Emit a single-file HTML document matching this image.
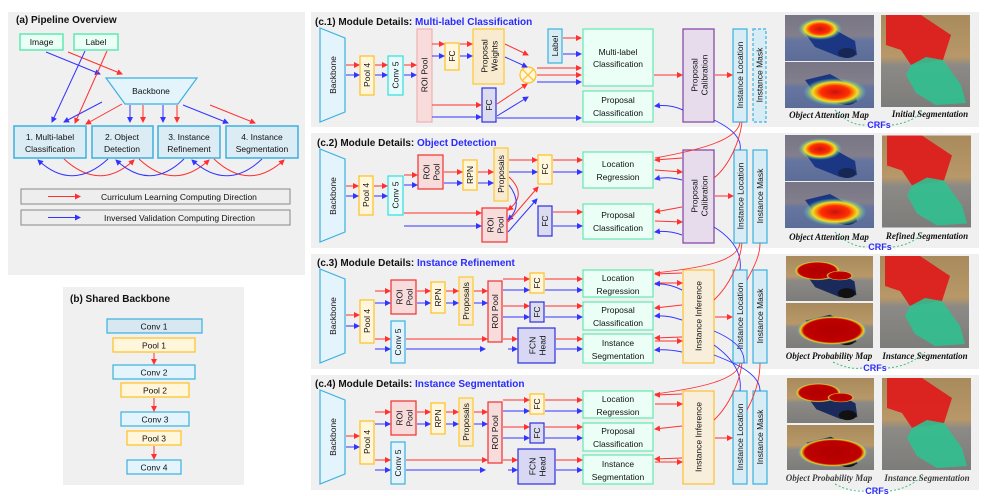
<!DOCTYPE html>
<html><head><meta charset="utf-8"><style>
html,body{margin:0;padding:0;background:#fff}
svg{display:block}
text{font-family:"Liberation Sans",sans-serif;fill:#111}
.t{font-weight:bold;font-size:10px}
.s{font-size:8.5px}
.v{font-size:8.5px}
.r{stroke:#ff3030;fill:none;stroke-width:1;marker-end:url(#ar)}
.b{stroke:#3434ff;fill:none;stroke-width:1;marker-end:url(#ab)}
.rn{stroke:#ff3030;fill:none;stroke-width:.9}
.bn{stroke:#3434ff;fill:none;stroke-width:.9}
.cap{font-family:"Liberation Serif",serif;font-style:italic;font-weight:bold;font-size:9px}
.crf{font-weight:bold;font-size:9px;fill:#2a2aff}
.bb{fill:#e3f4fc;stroke:#3ab0e0;stroke-width:1.2}
.py{fill:#fff6dc;stroke:#ffc020;stroke-width:1.2}
.cy{fill:#e6fbfb;stroke:#30e0e0;stroke-width:1.2}
.rp{fill:#f8dcdc;stroke:#f0b0b0;stroke-width:1.2}
.rr{fill:#f8dcdc;stroke:#f03030;stroke-width:1.2}
.pw{fill:#f8ebd0;stroke:#ffc830;stroke-width:1.2}
.fb{fill:#dcdcf0;stroke:#3030e0;stroke-width:1.2}
.gr{fill:#ebfff7;stroke:#60e8b0;stroke-width:1.2}
.pu{fill:#e6dcec;stroke:#8040a0;stroke-width:1.2}
.il{fill:#d8ecf5;stroke:#3ab0e0;stroke-width:1.2}
.ii{fill:#f8eedc;stroke:#ffc030;stroke-width:1.2}
</style></head><body>
<svg width="1007" height="496" viewBox="0 0 1007 496" xmlns="http://www.w3.org/2000/svg">
<defs>
<marker id="ar" markerWidth="6" markerHeight="6" refX="5" refY="3" orient="auto" markerUnits="userSpaceOnUse"><path d="M0,0 L6,3 L0,6 z" fill="#ff3030"/></marker>
<marker id="ab" markerWidth="6" markerHeight="6" refX="5" refY="3" orient="auto" markerUnits="userSpaceOnUse"><path d="M0,0 L6,3 L0,6 z" fill="#3434ff"/></marker>
<linearGradient id="scn" x1="0" y1="0" x2="0" y2="1"><stop offset="0" stop-color="#a88a5c"/><stop offset=".45" stop-color="#b89868"/><stop offset=".55" stop-color="#8c8a86"/><stop offset="1" stop-color="#7c7c7a"/></linearGradient>
<radialGradient id="hot"><stop offset="0" stop-color="#d01010"/><stop offset=".45" stop-color="#ff3000"/><stop offset=".7" stop-color="#f0e020"/><stop offset="1" stop-color="#30c0e0" stop-opacity="0"/></radialGradient>
<radialGradient id="prob"><stop offset="0" stop-color="#b00000"/><stop offset=".8" stop-color="#c00000"/><stop offset=".9" stop-color="#f0d020"/><stop offset="1" stop-color="#30a0f0" stop-opacity="0"/></radialGradient>
<symbol id="scene" viewBox="0 0 89 46"><rect width="89" height="46" fill="url(#scn)"/><path d="M20,18 L45,12 L70,26 L72,40 L55,42 L30,32z" fill="#1a2a5a"/><ellipse cx="62" cy="38" rx="9" ry="5" fill="#111"/></symbol>
<symbol id="att1" viewBox="0 0 89 46"><use href="#scene" width="89" height="46"/><rect width="89" height="46" fill="#2050d0" opacity=".35"/><ellipse cx="35" cy="14" rx="22" ry="11" fill="url(#hot)"/></symbol>
<symbol id="att2" viewBox="0 0 89 46"><use href="#scene" width="89" height="46"/><rect width="89" height="46" fill="#2050d0" opacity=".35"/><ellipse cx="50" cy="30" rx="32" ry="14" fill="url(#hot)"/></symbol>
<symbol id="pr1" viewBox="0 0 89 46"><use href="#scene" width="89" height="46"/><ellipse cx="32" cy="15" rx="24" ry="10" fill="url(#prob)"/><ellipse cx="55" cy="20" rx="14" ry="5" fill="url(#prob)"/></symbol>
<symbol id="pr2" viewBox="0 0 89 46"><use href="#scene" width="89" height="46"/><ellipse cx="47" cy="28" rx="36" ry="15" fill="url(#prob)"/></symbol>
<symbol id="seg" viewBox="0 0 89 92"><rect width="89" height="92" fill="url(#scn)"/><path d="M5,0 L40,0 L70,20 L62,45 L45,48 L30,50 L20,35 L5,30z" fill="#e01818" opacity=".9"/><path d="M30,50 L45,42 L62,45 L80,70 L85,88 L55,90 L35,78 L25,60z" fill="#30c090" opacity=".9"/></symbol>
</defs>

<!-- Panel (a) -->
<rect x="8" y="12" width="297" height="263" fill="#f0f0f0"/>
<text x="16" y="23" class="t">(a) Pipeline Overview</text>
<rect x="20" y="34" width="43" height="16" fill="#eafff5" stroke="#60e8b0" stroke-width="1.5"/><text x="41.5" y="45" class="s" text-anchor="middle">Image</text>
<rect x="74" y="34" width="44" height="16" fill="#eafff5" stroke="#60e8b0" stroke-width="1.5"/><text x="96" y="45" class="s" text-anchor="middle">Label</text>
<polygon points="106,78 197,78 178,104 125,104" fill="#e3f4fc" stroke="#3ab0e0" stroke-width="1.2"/>
<text x="151" y="94" class="s" text-anchor="middle">Backbone</text>
<g class="s" text-anchor="middle">
<rect x="14" y="126" width="72" height="32" fill="#dcecf5" stroke="#3ab0e0" stroke-width="1.5"/><text x="50" y="140">1. Multi-label</text><text x="50" y="152">Classification</text>
<rect x="92" y="126" width="61" height="32" fill="#dcecf5" stroke="#3ab0e0" stroke-width="1.5"/><text x="122" y="140">2. Object</text><text x="122" y="152">Detection</text>
<rect x="158" y="126" width="62" height="32" fill="#dcecf5" stroke="#3ab0e0" stroke-width="1.5"/><text x="189" y="140">3. Instance</text><text x="189" y="152">Refinement</text>
<rect x="226" y="126" width="72" height="32" fill="#dcecf5" stroke="#3ab0e0" stroke-width="1.5"/><text x="262" y="140">4. Instance</text><text x="262" y="152">Segmentation</text>
</g>
<path class="b" d="M46,52 L100,74"/><path class="r" d="M68,52 L122,74"/>
<path class="b" d="M85,51 L52,122"/><path class="r" d="M107,51 L75,123"/>
<path class="b" d="M102,102 L64,122"/><path class="r" d="M122,104 L86,124"/>
<path class="b" d="M130,105 L130,122"/><path class="r" d="M143,105 L143,122"/>
<path class="b" d="M163,105 L163,122"/><path class="r" d="M177,105 L177,122"/>
<path class="b" d="M183,105 L228,123"/><path class="r" d="M210,105 L255,123"/>
<path class="r" d="M64,159 Q100,192 134,160"/><path class="b" d="M108,159 Q72,192 38,160"/>
<path class="r" d="M139,159 Q174,192 209,160"/><path class="b" d="M184,159 Q150,192 116,160"/>
<path class="r" d="M214,159 Q249,192 284,160"/><path class="b" d="M262,159 Q227,192 192,160"/>
<rect x="21" y="189" width="269" height="15" fill="#eee" stroke="#888" stroke-width="1"/>
<path class="r" d="M48,196.5 L80,196.5"/><text x="101" y="200" class="s">Curriculum Learning Computing Direction</text>
<rect x="21" y="210" width="269" height="15" fill="#eee" stroke="#888" stroke-width="1"/>
<path class="b" d="M48,217.5 L80,217.5"/><text x="104" y="221" class="s">Inversed Validation Computing Direction</text>

<!-- Panel (b) -->
<rect x="63" y="287" width="181" height="198" fill="#f0f0f0"/>
<text x="70" y="302" class="t">(b) Shared Backbone</text>
<g class="s" text-anchor="middle">
<rect x="107" y="319" width="95" height="14" fill="#d8e8f0" stroke="#3ab0e0" stroke-width="1.2"/><text x="154" y="329.5">Conv  1</text>
<rect x="113" y="338" width="82" height="14" class="py"/><text x="154" y="348.5">Pool 1</text>
<rect x="113" y="365" width="82" height="14" class="bb"/><text x="154" y="375.5">Conv 2</text>
<rect x="121" y="383" width="68" height="14" class="py"/><text x="155" y="393.5">Pool 2</text>
<rect x="121" y="412" width="68" height="14" class="bb"/><text x="155" y="422.5">Conv 3</text>
<rect x="127" y="431" width="54" height="14" class="py"/><text x="154" y="441.5">Pool 3</text>
<rect x="127" y="460" width="54" height="14" class="bb"/><text x="154" y="470.5">Conv 4</text>
</g>
<path class="r" d="M154,353 L154,364"/><path class="r" d="M154,398 L154,411"/><path class="r" d="M154,446 L154,459"/>

<!-- section backgrounds -->
<rect x="311" y="12" width="668" height="115" fill="#f0f0f0"/>
<rect x="311" y="133" width="668" height="115" fill="#f0f0f0"/>
<rect x="311" y="254" width="668" height="115" fill="#f0f0f0"/>
<rect x="311" y="375" width="668" height="115" fill="#f0f0f0"/>

<!-- c.1 -->
<text x="315" y="25" class="t">(c.1) Module Details: <tspan fill="#2a2aff">Multi-label Classification</tspan></text>
<polygon points="320,28 345,38 345,112 320,122" class="bb"/>
<text class="v" text-anchor="middle" transform="translate(333,75) rotate(-90)" dy="3">Backbone</text>
<rect x="360" y="56" width="14" height="39" class="py"/><text class="v" text-anchor="middle" transform="translate(367,75) rotate(-90)" dy="3">Pool 4</text>
<rect x="388" y="56" width="15" height="39" class="cy"/><text class="v" text-anchor="middle" transform="translate(395.5,75) rotate(-90)" dy="3">Conv 5</text>
<rect x="417" y="29" width="15" height="93" class="rp"/><text class="v" text-anchor="middle" transform="translate(424.5,75) rotate(-90)" dy="3">ROI Pool</text>
<rect x="445" y="43" width="14" height="27" class="py"/><text class="v" text-anchor="middle" transform="translate(452,56) rotate(-90)" dy="3">FC</text>
<rect x="473" y="29" width="31" height="55" class="pw"/><text class="v" text-anchor="middle" transform="translate(488.5,56) rotate(-90)"><tspan x="0" dy="-1">Proposal</tspan><tspan x="0" dy="10">Weights</tspan></text>
<rect x="482" y="88" width="14" height="34" class="fb"/><text class="v" text-anchor="middle" transform="translate(489,105) rotate(-90)" dy="3">FC</text>
<rect x="548" y="29" width="14" height="34" class="il"/><text class="v" text-anchor="middle" transform="translate(555,46) rotate(-90)" dy="3">Label</text>
<circle cx="528" cy="75" r="8" fill="#fff6dc" stroke="#ffc020" stroke-width="1.2"/><path d="M522.5,69.5 L533.5,80.5 M533.5,69.5 L522.5,80.5" stroke="#ffc020" stroke-width="1.2"/>
<rect x="583" y="29" width="70" height="57" class="gr"/><text class="s" text-anchor="middle" x="618" y="55">Multi-label</text><text class="s" text-anchor="middle" x="618" y="67">Classification</text>
<rect x="583" y="91" width="70" height="31" class="gr"/><text class="s" text-anchor="middle" x="618" y="103">Proposal</text><text class="s" text-anchor="middle" x="618" y="116">Classification</text>
<rect x="683" y="29" width="31" height="93" class="pu"/><text class="v" text-anchor="middle" transform="translate(698.5,75) rotate(-90)"><tspan x="0" dy="-1">Proposal</tspan><tspan x="0" dy="10">Calibration</tspan></text>
<rect x="733" y="29" width="14" height="93" class="il"/><text class="v" text-anchor="middle" transform="translate(740,75) rotate(-90)" dy="3">Instance Location</text>
<rect x="753" y="29" width="13" height="93" fill="#d8ecf5" stroke="#3ab0e0" stroke-width="1.2" stroke-dasharray="3,2"/><text class="v" text-anchor="middle" transform="translate(759.5,75) rotate(-90)" dy="3">Instance Mask</text>
<path class="r" d="M346,65 L359,65"/><path class="b" d="M346,75 L359,75"/>
<path class="r" d="M375,65 L387,65"/><path class="b" d="M375,75 L387,75"/>
<path class="r" d="M404,65 L416,65"/><path class="b" d="M404,75 L416,75"/>
<path class="r" d="M432,44 L444,44"/><path class="b" d="M432,56 L444,56"/>
<path class="r" d="M460,44 L472,44"/><path class="b" d="M460,56 L472,56"/>
<path class="r" d="M505,44 L528,55"/><path class="b" d="M505,57 L527,67"/>
<path class="r" d="M432,105 L481,105"/><path class="b" d="M432,117 L481,117"/>
<path class="r" d="M497,104 L527,84"/><path class="b" d="M497,116 L528,97"/>
<path class="b" d="M497,118 L581,118"/>
<path class="r" d="M537,68 L581,68"/><path class="r" d="M537,75 L581,75"/><path class="b" d="M537,82 L581,82"/>
<path class="r" d="M563,38 L581,38"/><path class="b" d="M563,54 L581,54"/>
<path class="r" d="M654,75 L682,75"/><path class="r" d="M715,75 L732,75"/>
<path class="b" d="M683,110 Q670,104 655,106"/>

<!-- c.2 -->
<text x="317" y="146" class="t">(c.2) Module Details: <tspan fill="#2a2aff">Object Detection</tspan></text>
<polygon points="320,149 345,159 345,232 320,242" class="bb"/>
<text class="v" text-anchor="middle" transform="translate(333,196) rotate(-90)" dy="3">Backbone</text>
<rect x="359" y="176" width="14" height="39" class="py"/><text class="v" text-anchor="middle" transform="translate(366,195) rotate(-90)" dy="3">Pool 4</text>
<rect x="388" y="176" width="15" height="39" class="cy"/><text class="v" text-anchor="middle" transform="translate(395.5,195) rotate(-90)" dy="3">Conv 5</text>
<rect x="418" y="155" width="25" height="34" class="rr"/><text class="v" text-anchor="middle" transform="translate(430.5,172) rotate(-90)"><tspan x="0" dy="-1">ROI</tspan><tspan x="0" dy="10">Pool</tspan></text>
<rect x="463" y="160" width="14" height="30" class="py"/><text class="v" text-anchor="middle" transform="translate(470,175) rotate(-90)" dy="3">RPN</text>
<rect x="494" y="148" width="14" height="53" class="pw"/><text class="v" text-anchor="middle" transform="translate(501,174) rotate(-90)" dy="3">Proposals</text>
<rect x="538" y="155" width="14" height="29" class="py"/><text class="v" text-anchor="middle" transform="translate(545,169) rotate(-90)" dy="3">FC</text>
<rect x="482" y="208" width="25" height="34" class="rr"/><text class="v" text-anchor="middle" transform="translate(494.5,225) rotate(-90)"><tspan x="0" dy="-1">ROI</tspan><tspan x="0" dy="10">Pool</tspan></text>
<rect x="538" y="206" width="14" height="30" class="fb"/><text class="v" text-anchor="middle" transform="translate(545,221) rotate(-90)" dy="3">FC</text>
<rect x="583" y="152" width="70" height="36" class="gr"/><text class="s" text-anchor="middle" x="618" y="167">Location</text><text class="s" text-anchor="middle" x="618" y="180">Regression</text>
<rect x="583" y="204" width="70" height="35" class="gr"/><text class="s" text-anchor="middle" x="618" y="218">Proposal</text><text class="s" text-anchor="middle" x="618" y="231">Classification</text>
<rect x="683" y="150" width="31" height="93" class="pu"/><text class="v" text-anchor="middle" transform="translate(698.5,196) rotate(-90)"><tspan x="0" dy="-1">Proposal</tspan><tspan x="0" dy="10">Calibration</tspan></text>
<rect x="734" y="150" width="13" height="93" class="il"/><text class="v" text-anchor="middle" transform="translate(740.5,196) rotate(-90)" dy="3">Instance Location</text>
<rect x="753" y="150" width="14" height="93" class="il"/><text class="v" text-anchor="middle" transform="translate(760,196) rotate(-90)" dy="3">Instance Mask</text>
<path class="r" d="M346,186 L358,186"/><path class="b" d="M346,196 L358,196"/>
<path class="r" d="M374,186 L387,186"/><path class="b" d="M374,196 L387,196"/>
<path class="r" d="M404,175 L417,175"/><path class="b" d="M404,185 L417,185"/>
<path class="r" d="M444,172 L462,172"/><path class="b" d="M444,183 L462,183"/>
<path class="r" d="M478,172 L493,172"/><path class="b" d="M478,183 L493,183"/>
<path class="r" d="M509,160 L537,160"/><path class="b" d="M509,172 L537,172"/>
<path class="r" d="M553,160 L582,160"/><path class="b" d="M553,172 L582,172"/>
<path class="r" d="M404,213 L481,213"/><path class="b" d="M404,226 L481,226"/>
<path class="r" d="M509,177 Q528,195 508,210"/><path class="b" d="M509,185 Q524,205 508,220"/>
<path class="r" d="M508,222 L538,187"/><path class="b" d="M508,232 L537,199"/>
<path class="r" d="M553,212 L582,212"/><path class="b" d="M553,226 L582,226"/>
<path class="r" d="M682,158 L655,160"/><path class="r" d="M655,170 L682,172"/><path class="b" d="M682,180 Q668,176 655,179"/>
<path class="r" d="M682,207 L655,212"/><path class="r" d="M655,221 L682,222"/><path class="b" d="M682,235 Q668,230 655,232"/>
<path class="r" d="M715,196 L733,196"/>

<!-- c.3 & c.4 -->
<g id="c3">
<text x="317" y="266" class="t">(c.3) Module Details: <tspan fill="#2a2aff">Instance Refinement</tspan></text>
<polygon points="320,269 345,279 345,353 320,363" class="bb"/>
<text class="v" text-anchor="middle" transform="translate(333,316) rotate(-90)" dy="3">Backbone</text>
<rect x="360" y="300" width="14" height="43" class="py"/><text class="v" text-anchor="middle" transform="translate(367,321) rotate(-90)" dy="3">Pool 4</text>
<rect x="391" y="280" width="25" height="34" class="rr"/><text class="v" text-anchor="middle" transform="translate(403.5,297) rotate(-90)"><tspan x="0" dy="-1">ROI</tspan><tspan x="0" dy="10">Pool</tspan></text>
<rect x="431" y="282" width="14" height="31" class="py"/><text class="v" text-anchor="middle" transform="translate(438,297.5) rotate(-90)" dy="3">RPN</text>
<rect x="459" y="277" width="14" height="48" class="pw"/><text class="v" text-anchor="middle" transform="translate(466,301) rotate(-90)" dy="3">Proposals</text>
<rect x="488" y="281" width="14" height="61" class="rp" style="stroke:#f03030"/><text class="v" text-anchor="middle" transform="translate(495,311.5) rotate(-90)" dy="3">ROI Pool</text>
<rect x="530" y="273" width="14" height="20" class="py"/><text class="v" text-anchor="middle" transform="translate(537,283) rotate(-90)" dy="3">FC</text>
<rect x="530" y="302" width="14" height="20" class="fb"/><text class="v" text-anchor="middle" transform="translate(537,312) rotate(-90)" dy="3">FC</text>
<rect x="518" y="328" width="37" height="35" class="fb" style="fill:#d8d8f5"/><text class="v" text-anchor="middle" transform="translate(536.5,345.5) rotate(-90)"><tspan x="0" dy="-1">FCN</tspan><tspan x="0" dy="10">Head</tspan></text>
<rect x="391" y="321" width="14" height="42" class="bb"/><text class="v" text-anchor="middle" transform="translate(398,342) rotate(-90)" dy="3">Conv 5</text>
<rect x="583" y="270" width="70" height="27" class="gr"/><text class="s" text-anchor="middle" x="618" y="281">Location</text><text class="s" text-anchor="middle" x="618" y="294">Regression</text>
<rect x="583" y="302" width="70" height="28" class="gr"/><text class="s" text-anchor="middle" x="618" y="313">Proposal</text><text class="s" text-anchor="middle" x="618" y="326">Classification</text>
<rect x="583" y="334" width="70" height="29" class="gr"/><text class="s" text-anchor="middle" x="618" y="346">Instance</text><text class="s" text-anchor="middle" x="618" y="359">Segmentation</text>
<rect x="683" y="270" width="31" height="93" class="ii"/><text class="v" text-anchor="middle" transform="translate(698.5,316) rotate(-90)" dy="3">Instance Inference</text>
<rect x="733" y="270" width="14" height="93" class="il"/><text class="v" text-anchor="middle" transform="translate(740,316) rotate(-90)" dy="3">Instance Location</text>
<rect x="753" y="270" width="14" height="93" class="il"/><text class="v" text-anchor="middle" transform="translate(760,316) rotate(-90)" dy="3">Instance Mask</text>
<path class="r" d="M346,315 L359,315"/><path class="b" d="M346,326 L359,326"/>
<path class="r" d="M375,291 L390,291"/><path class="b" d="M375,303 L390,303"/>
<path class="r" d="M375,339 L390,339"/><path class="b" d="M375,349 L390,349"/>
<path class="r" d="M417,291 L430,291"/><path class="b" d="M417,303 L430,303"/>
<path class="r" d="M446,291 L458,291"/><path class="b" d="M446,303 L458,303"/>
<path class="r" d="M474,291 L487,291"/><path class="b" d="M474,303 L487,303"/>
<path class="r" d="M503,279 L529,279"/><path class="b" d="M503,290 L529,290"/>
<path class="r" d="M545,279 L582,279"/><path class="b" d="M545,290 L582,290"/>
<path class="r" d="M503,306 L529,306"/><path class="b" d="M503,317 L529,317"/>
<path class="r" d="M545,306 L582,306"/><path class="b" d="M545,317 L582,317"/>
<path class="r" d="M406,339 L487,339"/><path class="b" d="M406,349 L485,349"/>
<path class="r" d="M503,339 L517,339"/><path class="b" d="M508,349 L517,349"/>
<path class="r" d="M556,339 L582,339"/><path class="b" d="M556,349 L582,349"/>
<path class="r" d="M682,273 L655,274"/><path class="r" d="M655,283 L682,283"/><path class="b" d="M682,290 Q668,283 655,284"/>
<path class="r" d="M682,305 L655,308"/><path class="b" d="M682,320 Q668,315 655,316"/>
<path class="r" d="M682,337 L655,338"/><path class="r" d="M655,341 L682,341"/><path class="b" d="M682,352 Q668,349 655,350"/>
<path class="r" d="M715,317 L732,317"/>
</g>
<g transform="translate(0,121)">
<text x="315" y="266" class="t">(c.4) Module Details: <tspan fill="#2a2aff">Instance Segmentation</tspan></text>
<polygon points="320,269 345,279 345,353 320,363" class="bb"/>
<text class="v" text-anchor="middle" transform="translate(333,316) rotate(-90)" dy="3">Backbone</text>
<rect x="360" y="300" width="14" height="43" class="py"/><text class="v" text-anchor="middle" transform="translate(367,321) rotate(-90)" dy="3">Pool 4</text>
<rect x="391" y="280" width="25" height="34" class="rr"/><text class="v" text-anchor="middle" transform="translate(403.5,297) rotate(-90)"><tspan x="0" dy="-1">ROI</tspan><tspan x="0" dy="10">Pool</tspan></text>
<rect x="431" y="282" width="14" height="31" class="py"/><text class="v" text-anchor="middle" transform="translate(438,297.5) rotate(-90)" dy="3">RPN</text>
<rect x="459" y="277" width="14" height="48" class="pw"/><text class="v" text-anchor="middle" transform="translate(466,301) rotate(-90)" dy="3">Proposals</text>
<rect x="488" y="281" width="14" height="61" class="rp" style="stroke:#f03030"/><text class="v" text-anchor="middle" transform="translate(495,311.5) rotate(-90)" dy="3">ROI Pool</text>
<rect x="530" y="273" width="14" height="20" class="py"/><text class="v" text-anchor="middle" transform="translate(537,283) rotate(-90)" dy="3">FC</text>
<rect x="530" y="302" width="14" height="20" class="fb"/><text class="v" text-anchor="middle" transform="translate(537,312) rotate(-90)" dy="3">FC</text>
<rect x="518" y="328" width="37" height="35" class="fb" style="fill:#d8d8f5"/><text class="v" text-anchor="middle" transform="translate(536.5,345.5) rotate(-90)"><tspan x="0" dy="-1">FCN</tspan><tspan x="0" dy="10">Head</tspan></text>
<rect x="391" y="321" width="14" height="42" class="bb"/><text class="v" text-anchor="middle" transform="translate(398,342) rotate(-90)" dy="3">Conv 5</text>
<rect x="583" y="270" width="70" height="27" class="gr"/><text class="s" text-anchor="middle" x="618" y="281">Location</text><text class="s" text-anchor="middle" x="618" y="294">Regression</text>
<rect x="583" y="302" width="70" height="28" class="gr"/><text class="s" text-anchor="middle" x="618" y="313">Proposal</text><text class="s" text-anchor="middle" x="618" y="326">Classification</text>
<rect x="583" y="334" width="70" height="29" class="gr"/><text class="s" text-anchor="middle" x="618" y="346">Instance</text><text class="s" text-anchor="middle" x="618" y="359">Segmentation</text>
<rect x="683" y="270" width="31" height="93" class="ii"/><text class="v" text-anchor="middle" transform="translate(698.5,316) rotate(-90)" dy="3">Instance Inference</text>
<rect x="733" y="270" width="14" height="93" class="il"/><text class="v" text-anchor="middle" transform="translate(740,316) rotate(-90)" dy="3">Instance Location</text>
<rect x="753" y="270" width="14" height="93" class="il"/><text class="v" text-anchor="middle" transform="translate(760,316) rotate(-90)" dy="3">Instance Mask</text>
<path class="r" d="M346,315 L359,315"/><path class="b" d="M346,326 L359,326"/>
<path class="r" d="M375,291 L390,291"/><path class="b" d="M375,303 L390,303"/>
<path class="r" d="M375,339 L390,339"/><path class="b" d="M375,349 L390,349"/>
<path class="r" d="M417,291 L430,291"/><path class="b" d="M417,303 L430,303"/>
<path class="r" d="M446,291 L458,291"/><path class="b" d="M446,303 L458,303"/>
<path class="r" d="M474,291 L487,291"/><path class="b" d="M474,303 L487,303"/>
<path class="r" d="M503,279 L529,279"/><path class="b" d="M503,290 L529,290"/>
<path class="r" d="M545,279 L582,279"/><path class="b" d="M545,290 L582,290"/>
<path class="r" d="M503,306 L529,306"/><path class="b" d="M503,317 L529,317"/>
<path class="r" d="M545,306 L582,306"/><path class="b" d="M545,317 L582,317"/>
<path class="r" d="M406,339 L487,339"/><path class="b" d="M406,349 L485,349"/>
<path class="r" d="M503,339 L517,339"/><path class="b" d="M508,349 L517,349"/>
<path class="r" d="M556,339 L582,339"/><path class="b" d="M556,349 L582,349"/>
<path class="r" d="M682,273 L655,274"/><path class="r" d="M655,283 L682,283"/>
<path class="r" d="M682,305 L655,308"/>
<path class="r" d="M682,337 L655,338"/><path class="r" d="M655,341 L682,341"/>
<path class="r" d="M715,317 L732,317"/>
</g>

<!-- cross-section curves -->
<path class="rn" d="M740,122 C738,140 700,150 655,158"/>
<path class="bn" d="M714,120 C735,130 742,140 740,150"/>
<path class="rn" d="M714,178 C730,165 740,140 742,122"/>
<path class="rn" d="M740,243 C738,262 700,268 655,273"/>
<path class="bn" d="M714,227 C735,240 742,255 740,270"/>
<path class="rn" d="M714,300 C730,285 740,262 742,243"/>
<path class="rn" d="M760,243 C760,255 755,265 747,280"/>
<path class="bn" d="M714,331 C735,340 745,350 744,363"/>
<path class="rn" d="M740,363 C738,380 700,388 655,394"/>
<path class="bn" d="M714,345 C735,360 742,375 740,391"/>
<path class="rn" d="M714,420 C730,405 740,380 742,363"/>
<path class="rn" d="M760,363 C760,380 755,395 747,410"/>
<path class="bn" d="M714,355 C740,365 760,375 760,391"/>

<!-- images -->
<g>
<use href="#att1" x="785" y="15" width="89" height="46"/><use href="#att2" x="785" y="62" width="89" height="46"/><use href="#seg" x="881" y="15" width="89" height="92"/>
<text x="829" y="118" class="cap" text-anchor="middle">Object Attention Map</text><text x="930" y="117" class="cap" text-anchor="middle">Initial Segmentation</text>
<path d="M835,110 Q850,126 866,125 M892,125 Q915,122 922,110" stroke="#40c080" fill="none" stroke-dasharray="2,2"/><text x="879" y="128" class="crf" text-anchor="middle">CRFs</text>

<use href="#att1" x="785" y="135" width="89" height="46"/><use href="#att2" x="785" y="182" width="89" height="46"/><use href="#seg" x="882" y="135" width="89" height="93"/>
<text x="829" y="240" class="cap" text-anchor="middle">Object Attention Map</text><text x="927" y="239" class="cap" text-anchor="middle">Refined Segmentation</text>
<path d="M835,232 Q850,247 867,247 M893,247 Q915,244 922,232" stroke="#40c080" fill="none" stroke-dasharray="2,2"/><text x="880" y="250" class="crf" text-anchor="middle">CRFs</text>

<use href="#pr1" x="785" y="256" width="89" height="45"/><use href="#pr2" x="785" y="303" width="89" height="45"/><use href="#seg" x="880" y="256" width="89" height="92"/>
<text x="829" y="359" class="cap" text-anchor="middle">Object Probability Map</text><text x="925" y="359" class="cap" text-anchor="middle">Instance Segmentation</text>
<path d="M833,362 Q850,370 862,368 M888,368 Q910,366 925,352" stroke="#40c080" fill="none" stroke-dasharray="2,2"/><text x="875" y="371" class="crf" text-anchor="middle">CRFs</text>

<use href="#pr1" x="786" y="378" width="89" height="45"/><use href="#pr2" x="786" y="425" width="89" height="45"/><use href="#seg" x="882" y="378" width="89" height="92"/>
<text x="829" y="481" class="cap" text-anchor="middle" opacity=".8">Object Probability Map</text><text x="927" y="481" class="cap" text-anchor="middle" opacity=".8">Instance Segmentation</text>
<path d="M835,484 Q850,492 864,491 M890,491 Q910,488 922,476" stroke="#40c080" fill="none" stroke-dasharray="2,2"/><text x="877" y="494" class="crf" text-anchor="middle">CRFs</text>
</g>
</svg>
</body></html>
